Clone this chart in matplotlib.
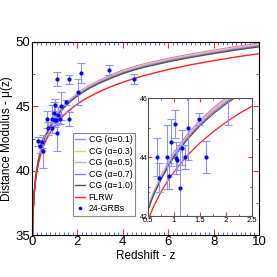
import numpy as np
import matplotlib
matplotlib.use("Agg")
from matplotlib import pyplot as plt
from matplotlib.ticker import MultipleLocator

plt.rcParams['font.family'] = ['Liberation Sans', 'DejaVu Sans']

# model curves, values
z_model = [0.02, 0.03, 0.05, 0.075, 0.1, 0.15, 0.2, 0.3, 0.4, 0.5, 0.6, 0.75, 0.9, 1.0,
           1.25, 1.5, 1.75, 2.0, 2.25, 2.5, 3, 3.5, 4, 4.5, 5, 6, 7, 8, 9, 10]
cg_01 = [34.72, 35.60, 36.76, 37.68, 38.34, 39.30, 40.00, 40.98, 41.72, 42.30, 42.78, 43.36, 43.86, 44.15,
         44.75, 45.25, 45.65, 46.00, 46.32, 46.60, 47.05, 47.45, 47.80, 48.08, 48.32, 48.72, 49.06, 49.36, 49.64, 49.90]
cg_03 = [34.72, 35.60, 36.75, 37.67, 38.33, 39.29, 39.98, 40.96, 41.70, 42.28, 42.75, 43.33, 43.83, 44.11,
         44.71, 45.20, 45.60, 45.95, 46.26, 46.55, 46.99, 47.39, 47.73, 48.02, 48.26, 48.66, 49.00, 49.30, 49.58, 49.83]
cg_05 = [34.71, 35.59, 36.75, 37.66, 38.32, 39.28, 39.97, 40.94, 41.68, 42.25, 42.73, 43.30, 43.79, 44.08,
         44.66, 45.16, 45.56, 45.90, 46.21, 46.49, 46.94, 47.33, 47.67, 47.95, 48.19, 48.59, 48.93, 49.23, 49.51, 49.76]
cg_07 = [34.71, 35.59, 36.74, 37.65, 38.31, 39.26, 39.96, 40.92, 41.65, 42.23, 42.70, 43.27, 43.76, 44.04,
         44.62, 45.11, 45.51, 45.85, 46.15, 46.44, 46.88, 47.26, 47.60, 47.88, 48.12, 48.52, 48.86, 49.16, 49.44, 49.69]
cg_10 = [34.70, 35.58, 36.73, 37.64, 38.30, 39.25, 39.94, 40.90, 41.63, 42.20, 42.68, 43.24, 43.72, 44.00,
         44.58, 45.06, 45.46, 45.80, 46.10, 46.38, 46.82, 47.20, 47.54, 47.82, 48.06, 48.46, 48.80, 49.10, 49.38, 49.62]
flrw = [34.67, 35.56, 36.68, 37.57, 38.21, 39.11, 39.76, 40.68, 41.34, 41.86, 42.29, 42.82, 43.25, 43.50,
        44.04, 44.48, 44.85, 45.18, 45.47, 45.72, 46.17, 46.55, 46.87, 47.16, 47.42, 47.86, 48.23, 48.55, 48.84, 49.09]

# 24 GRBs
grb_z = [0.28, 0.35, 0.44, 0.47, 0.68, 0.72, 0.87, 0.90, 0.95, 1.01, 1.03, 1.05,
         1.09, 1.12, 1.15, 1.22, 1.26, 1.49, 1.62, 1.63, 2.04, 2.14, 3.41, 4.50]
grb_mu = [42.3, 41.9, 42.2, 41.5, 44.0, 43.3, 44.0, 43.35, 44.5, 45.12, 43.96, 43.9,
          47.1, 42.96, 44.32, 44.0, 45.0, 45.3, 44.0, 47.1, 46.1, 47.6, 47.85, 47.1]
grb_err = [0.35, 0.5, 0.45, 1.3, 0.65, 0.5, 1.1, 0.45, 0.8, 0.47, 0.55, 0.35,
           0.55, 1.45, 0.6, 0.4, 1.1, 0.2, 0.55, 0.35, 1.0, 0.8, 0.4, 0.4]

curves = [(cg_01, '#c070f0', 'CG (α=0.1)'),
          (cg_03, '#ffc870', 'CG (α=0.3)'),
          (cg_05, '#d8a8a8', 'CG (α=0.5)'),
          (cg_07, '#8080ff', 'CG (α=0.7)'),
          (cg_10, '#555555', 'CG (α=1.0)')]


def draw(ax, lw, ms, cap):
    for vals, col, lab in curves:
        ax.plot(z_model, vals, color=col, lw=lw, label=lab)
    ax.plot(z_model, flrw, color='#ff2020', lw=lw, label='FLRW')
    ax.errorbar(grb_z, grb_mu, yerr=grb_err, fmt='none', ecolor='#9090ff',
                elinewidth=0.8, capsize=cap, capthick=0.8)
    ax.plot(grb_z, grb_mu, 'o', color='#0000ff', ms=ms, ls='none', label='24-GRBs')


def style_ticks(ax, size):
    ax.tick_params(which='both', direction='in', top=True, right=True)
    ax.tick_params(which='major', color='#ff3030', length=size, labelsize=0)
    ax.tick_params(which='minor', color='#4040ff', length=size * 0.6)


fig = plt.figure(figsize=(2.77, 2.77), dpi=100)
ax = fig.add_axes([0.1155, 0.1516, 0.8195, 0.6968])
draw(ax, 1.0, 2.0, 2.6)
ax.set_xlim(0, 10)
ax.set_ylim(35, 50)
ax.xaxis.set_major_locator(MultipleLocator(2))
ax.xaxis.set_minor_locator(MultipleLocator(0.2))
ax.yaxis.set_major_locator(MultipleLocator(5))
ax.yaxis.set_minor_locator(MultipleLocator(2.5))
style_ticks(ax, 4)
ax.tick_params(which='major', labelsize=9.5, pad=1)
ax.set_xlabel('Redshift - z', fontsize=8.5, labelpad=1)
ax.set_ylabel('Distance Modulus - μ(z)', fontsize=8.5, labelpad=2)

leg = ax.legend(loc='lower left', bbox_to_anchor=(0.18, 0.10), fontsize=6.3,
                frameon=True, fancybox=False, framealpha=1, edgecolor='#888888',
                handlelength=1.1, handletextpad=0.4, labelspacing=0.28,
                borderpad=0.3, borderaxespad=0.0, markerscale=0.8)
leg.get_frame().set_linewidth(0.8)

ins = fig.add_axes([0.5343, 0.2202, 0.3755, 0.426])
draw(ins, 0.9, 2.0, 2.6)
ins.set_xlim(0.5, 2.5)
ins.set_ylim(42, 46)
ins.xaxis.set_major_locator(MultipleLocator(0.5))
ins.xaxis.set_minor_locator(MultipleLocator(0.25))
ins.yaxis.set_major_locator(MultipleLocator(2))
ins.yaxis.set_minor_locator(MultipleLocator(1))
style_ticks(ins, 3)
ins.tick_params(which='major', labelsize=5.5, pad=1)
ins.tick_params(axis='y', which='major', labelsize=5, pad=0.5)
ins.set_xticks([0.5, 1, 1.5, 2, 2.5])
ins.set_xticklabels(['0.5', '1', '1.5', '2', '2.5'])
for s in ins.spines.values():
    s.set_color('#555555')
    s.set_linewidth(0.8)

fig.savefig('out.png', dpi=100)
